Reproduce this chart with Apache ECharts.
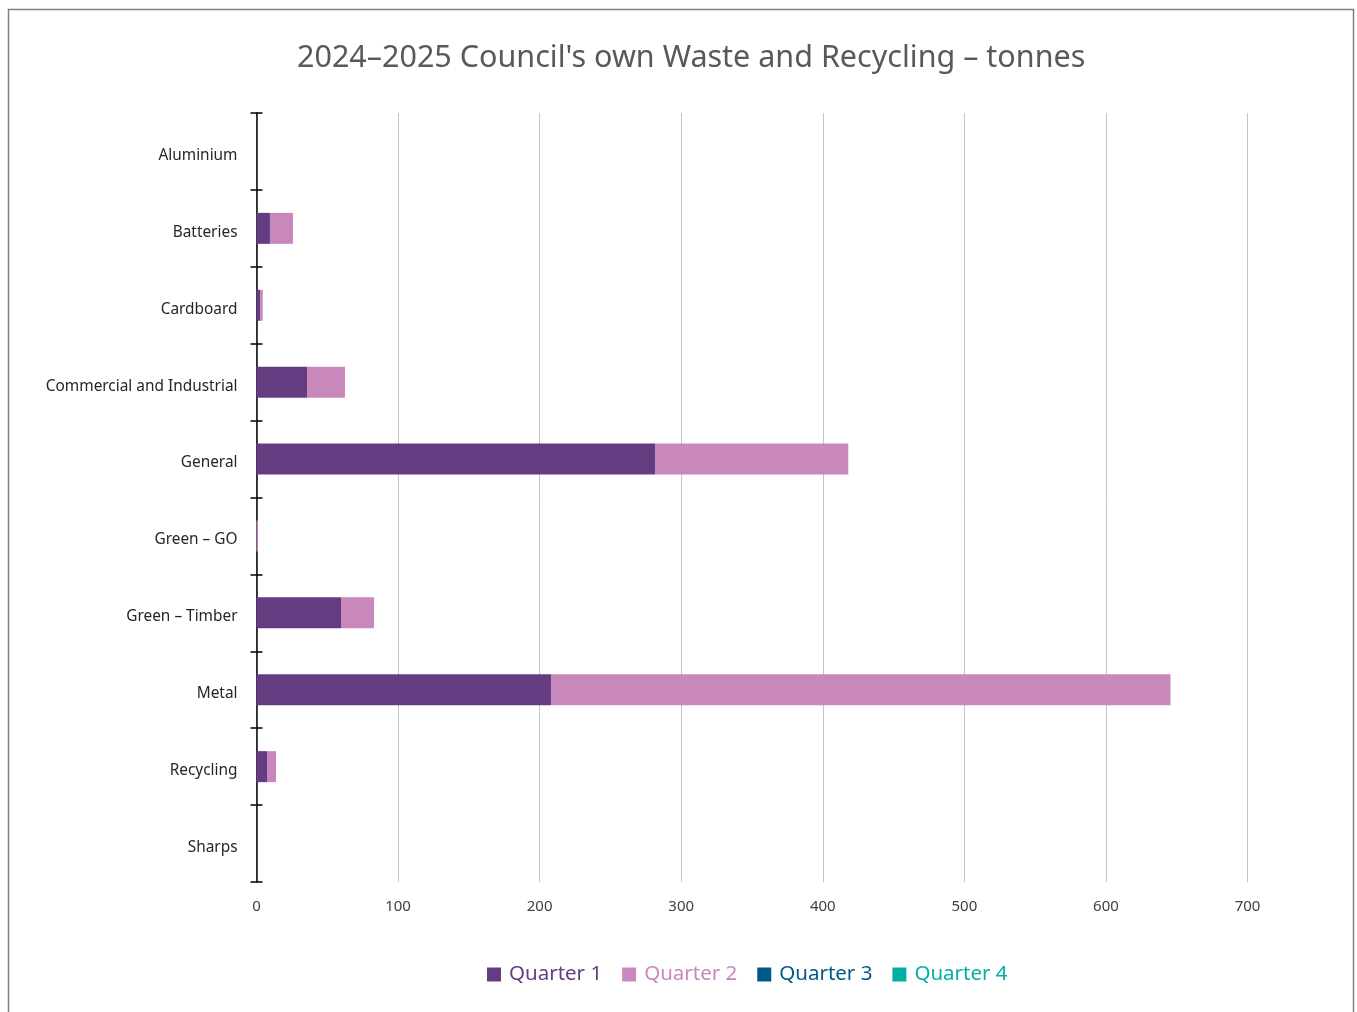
<!DOCTYPE html>
<html>
<head>
<meta charset="utf-8">
<script src="https://cdn.jsdelivr.net/npm/echarts@6/dist/echarts.min.js"></script>
<style>html,body{margin:0;padding:0;background:#fff}#c{width:1357px;height:1012px}</style>
</head>
<body>
<div id="c"></div>
<script>
const categories = ["Aluminium","Batteries","Cardboard","Commercial and Industrial","General","Green – GO","Green – Timber","Metal","Recycling","Sharps"];
const quarter1 = [0, 9.5, 2.5, 35.7, 281.5, 0, 59.7, 208, 7.4, 0];
const quarter2 = [0, 16.3, 1.9, 26.8, 136.5, 1.0, 23.3, 437.6, 6.4, 0];
const quarter3 = [0, 0, 0, 0, 0, 0, 0, 0, 0, 0];
const quarter4 = [0, 0, 0, 0, 0, 0, 0, 0, 0, 0];
const seriesNames = ["Quarter 1","Quarter 2","Quarter 3","Quarter 4"];
const colors = ["#633C82","#C888BC","#005A87","#00B0A5"];
const xTicks = [0,100,200,300,400,500,600,700];

const chart = echarts.init(document.getElementById('c'));
const font = "'Noto Sans', 'Open Sans', sans-serif";
const mk = (name, data, i) => ({
  name, type: 'bar', stack: 'q', data, barWidth: 31,
  itemStyle: {color: colors[i]}, yAxisIndex: 0
});
chart.setOption({
  animation: false,
  color: colors,
  title: {
    text: "2024–2025 Council's own Waste and Recycling – tonnes",
    left: 292, top: 38,
    textStyle: {fontFamily: font, fontSize: 30.5, fontWeight: 'normal', color: '#595959'}
  },
  graphic: [{
    type: 'rect', shape: {x: 8.5, y: 9.5, width: 1345, height: 1010},
    style: {fill: 'none', stroke: '#808080', lineWidth: 1.5}, silent: true, z: -1
  }],
  legend: {
    data: seriesNames.map((n, i) => ({name: n, textStyle: {color: colors[i]}})),
    bottom: 22, left: 482, itemWidth: 14, itemHeight: 14, itemGap: 20,
    icon: 'rect',
    textStyle: {fontFamily: font, fontSize: 20.5, padding: [0, 0, 0, 3]}
  },
  grid: {left: 256.5, right: 1357 - 1247.5, top: 113, bottom: 130, containLabel: false},
  xAxis: {
    type: 'value', min: 0, max: 700, interval: 100,
    axisLine: {show: false}, axisTick: {show: false},
    splitLine: {show: true, lineStyle: {color: '#c4c4c4', width: 1}},
    axisLabel: {fontFamily: font, fontSize: 15, color: '#404040', margin: 17,
      formatter: v => xTicks.includes(v) ? String(v) : ''}
  },
  yAxis: [{
    type: 'category', data: categories, inverse: true,
    axisLine: {show: true, lineStyle: {color: '#000', width: 1.5}},
    axisTick: {show: true, alignWithLabel: false, lineStyle: {color: '#000', width: 1.5}, length: 6},
    axisLabel: {margin: 19, formatter: v => '{a|' + v + '}',
      rich: {a: {fontFamily: font, fontSize: 15.4, color: '#262626', padding: [8, 0, 0, 0]}}}
  }, {
    type: 'category', data: categories, inverse: true, position: 'left', offset: 0,
    axisLine: {show: false},
    axisTick: {show: true, inside: true, lineStyle: {color: '#000', width: 1.5}, length: 6},
    axisLabel: {show: false}
  }],
  series: [mk(seriesNames[0], quarter1, 0), mk(seriesNames[1], quarter2, 1),
           mk(seriesNames[2], quarter3, 2), mk(seriesNames[3], quarter4, 3)]
});
</script>
</body>
</html>
